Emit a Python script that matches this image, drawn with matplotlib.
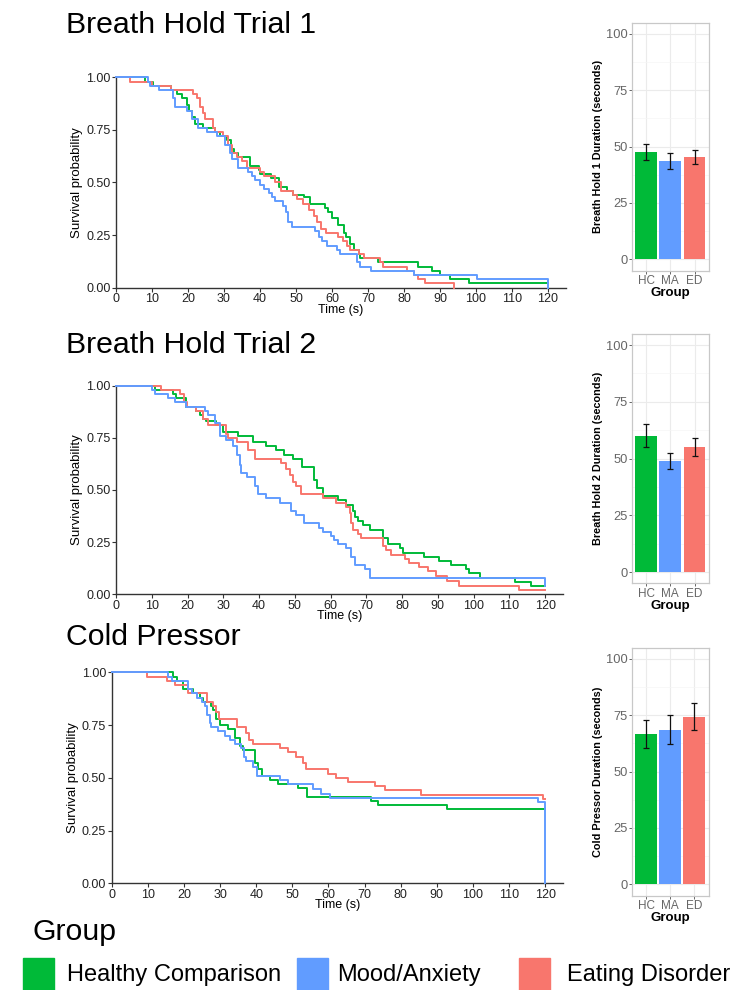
import numpy as np
import matplotlib.pyplot as plt
from matplotlib.patches import Rectangle

plt.rcParams['font.family'] = ['Liberation Sans', 'DejaVu Sans']

# ---------------- colours / groups ----------------
groups = ['HC', 'MA', 'ED']
group_names = ['Healthy Comparison', 'Mood/Anxiety', 'Eating Disorder']
colors = {'HC': '#00BA38', 'MA': '#619CFF', 'ED': '#F8766D'}

# ---------------- Kaplan-Meier steps ----------------
# Breath hold trial 1
bh1_hc_t = [0, 8.1, 10.2, 15.3, 16.9, 18.3, 19.6, 20.4, 21, 22, 24.3, 27.5, 28.9, 30.8, 31.9, 32.8, 34, 37.3,
            39.6, 40, 43, 45.3, 47.5, 49.3, 52.3, 54, 58.1, 59, 60, 61.8, 63.2, 63.9, 65, 66, 67.4, 67.8, 72.9,
            84, 87.8, 90, 92.9, 98, 120]
bh1_hc_s = [1, .98, .96, .94, .92, .90, .87, .84, .81, .78, .76, .74, .72, .70, .66, .64, .62, .58,
            .56, .54, .52, .48, .46, .44, .43, .40, .38, .36, .33, .30, .26, .24, .21, .18, .16, .14, .12,
            .10, .08, .06, .04, .02, .02]
bh1_ma_t = [0, 9, 9.5, 12, 15.7, 16.4, 19.6, 21, 22.9, 25.2, 28, 30.3, 31.7, 32.2, 34, 36.8, 37.7, 38.6, 40,
            41.1, 42.4, 43.3, 44.2, 46.5, 47.3, 47.9, 49, 55.3, 56.5, 57.2, 58.6, 61.4, 62.1, 66.9, 67.8, 70.7,
            82.7, 100.4, 120, 120]
bh1_ma_s = [1, .98, .96, .94, .90, .86, .84, .80, .76, .74, .72, .68, .64, .61, .57, .55, .53, .51, .49,
            .47, .45, .43, .41, .39, .36, .31, .29, .27, .24, .22, .20, .18, .16, .12, .10, .08,
            .06, .04, .04, 0]
bh1_ed_t = [0, 3.9, 9.9, 15.3, 21.5, 22.4, 23.2, 24.1, 24.7, 27, 27.5, 29.8, 31.2, 32.2, 33.5, 35, 36.3, 40,
            41, 44.2, 45.9, 49.3, 50.4, 51.9, 53.5, 54.9, 55.8, 57, 58.4, 61.8, 63, 64.1, 65, 67.4, 68.8, 73.4,
            74.3, 80.8, 82.7, 84, 85.9, 94]
bh1_ed_s = [1, .98, .96, .94, .92, .90, .86, .83, .80, .76, .74, .72, .68, .64, .62, .60, .57, .55,
            .53, .50, .46, .44, .42, .40, .37, .34, .31, .28, .26, .24, .22, .20, .18, .16, .14, .12,
            .10, .08, .06, .04, .02, 0]

# Breath hold trial 2
bh2_hc_t = [0, 10.9, 16, 16.9, 19.7, 22.5, 23.4, 24.4, 25.3, 28.1, 30, 34.1, 38.3, 42, 44.8, 46.9, 49.5, 52.1,
            55.5, 56.3, 57.9, 62, 64.4, 66.2, 66.7, 67.6, 69, 70.9, 74.6, 76, 79.3, 80.2, 86.2, 90.4, 93.6,
            97.8, 98.6, 101.8, 111.6, 116, 120]
bh2_hc_s = [1, .98, .96, .94, .90, .88, .86, .84, .83, .81, .78, .76, .73, .71, .69, .67, .65, .61,
            .55, .51, .47, .45, .43, .40, .37, .35, .33, .31, .27, .24, .22, .20, .18, .16, .14,
            .12, .10, .08, .06, .04, .04]
bh2_ma_t = [0, 10, 10.9, 14.6, 16.5, 19.7, 24.8, 25.8, 27.6, 29, 30.9, 32.7, 33.7, 34.6, 35, 36.5, 38.8, 39.7,
            42, 45.8, 49, 50.4, 52.7, 56.9, 57.9, 60.2, 61.1, 62, 64.4, 65.8, 66.7, 69.5, 70.9, 120, 120]
bh2_ma_s = [1, .98, .96, .94, .92, .90, .88, .86, .82, .76, .74, .71, .67, .62, .58, .56, .52, .48,
            .46, .44, .40, .38, .34, .32, .30, .28, .26, .24, .22, .18, .14, .12, .08, .08, .04]
bh2_ed_t = [0, 12.7, 17.9, 19, 19.9, 22.5, 24.4, 25.8, 30.9, 31.4, 33.7, 36.9, 38.8, 46.2, 47.6, 48.6, 49.5,
            50.4, 51.8, 57.9, 61.6, 64.4, 65.3, 65.8, 66.2, 67.6, 68.6, 74.6, 75.5, 76.9, 80.7, 82, 84.8,
            87.2, 89.5, 92.7, 96, 112.8, 120]
bh2_ed_s = [1, .98, .96, .92, .90, .88, .84, .81, .77, .75, .73, .69, .65, .63, .60, .57, .54,
            .52, .48, .46, .44, .42, .39, .34, .31, .29, .27, .23, .21, .19, .17, .15, .13,
            .11, .09, .065, .04, .02, .02]

# Cold pressor
cp_hc_t = [0, 17, 18, 19.8, 22.6, 24.4, 25.3, 27.6, 28.1, 29, 30, 32.3, 34.1, 35.5, 36.4, 39.6, 40.5, 41.5,
           43.8, 46.1, 51.6, 54.1, 71.9, 73.7, 92.9, 120]
cp_hc_s = [1, .98, .96, .92, .90, .88, .86, .84, .82, .78, .75, .73, .69, .65, .63, .57, .54, .51,
           .49, .47, .45, .41, .39, .37, .35, .35]
cp_ma_t = [0, 15.7, 16.6, 21.2, 22.1, 23.5, 24.9, 25.8, 26.3, 27.2, 27.6, 29.5, 31.3, 32.7, 34.1, 35.9, 36.6,
           37.3, 39.2, 40.3, 46.5, 48.8, 55.7, 58, 60.4, 118, 120, 120]
cp_ma_s = [1, .98, .96, .92, .90, .88, .86, .84, .80, .76, .74, .72, .70, .68, .66, .64, .60,
           .58, .55, .51, .49, .47, .445, .425, .405, .387, .387, 0]
cp_ed_t = [0, 9.9, 15.2, 17.5, 21.2, 26.3, 28.1, 29, 29.8, 34.6, 37.3, 38, 39, 46.5, 48.8, 51.1, 53, 53.9,
           59.9, 62.2, 65.4, 72.8, 75.6, 85.7, 119.3, 120]
cp_ed_s = [1, .98, .96, .94, .90, .86, .84, .81, .78, .74, .71, .68, .66, .64, .62, .60, .57, .54,
           .52, .50, .48, .46, .44, .42, .40, .40]

# ---------------- bar charts: mean duration and error bars ----------------
bh1_mean = [47.5, 43.6, 45.3]
bh1_lo = [44.1, 40.1, 42.2]
bh1_hi = [51.3, 47.3, 48.5]
bh2_mean = [59.9, 48.9, 55.1]
bh2_lo = [55.1, 45.4, 51.1]
bh2_hi = [65.2, 52.4, 59.0]
cp_mean = [66.6, 68.5, 74.3]
cp_lo = [60.7, 62.1, 68.5]
cp_hi = [72.8, 75.0, 80.3]

W, H = 732, 990
fig = plt.figure(figsize=(W / 100, H / 100), dpi=100)


def fx(px):
    return px / W


def fy(py):
    return 1 - py / H


def km_panel(rect, curves):
    ax = fig.add_axes(rect)
    for g in ['HC', 'ED', 'MA']:
        t, s = curves[g]
        ax.step(t, s, where='post', color=colors[g], lw=1.4, clip_on=False, zorder=3)
    ax.set_xlim(0, 125)
    ax.set_ylim(0, 1)
    ax.set_xticks(np.arange(0, 121, 10))
    ax.set_yticks([0, 0.25, 0.5, 0.75, 1.0])
    ax.set_yticklabels(['0.00', '0.25', '0.50', '0.75', '1.00'])
    for sp in ['top', 'right']:
        ax.spines[sp].set_visible(False)
    for sp in ['left', 'bottom']:
        ax.spines[sp].set_color('#333333')
        ax.spines[sp].set_linewidth(1.0)
    ax.tick_params(length=3, width=0.8, color='#333333', labelsize=9, pad=1, labelcolor='#222222')
    ax.set_xlabel('Time (s)', fontsize=9, labelpad=-1)
    ax.set_ylabel('Survival probability', fontsize=9.5, labelpad=2)
    return ax


def bar_panel(rect, mean, lo, hi, ylabel):
    ax = fig.add_axes(rect)
    x = np.arange(1, len(groups) + 1)
    ax.set_axisbelow(True)
    ax.bar(x, mean, width=0.9, color=[colors[g] for g in groups], zorder=2)
    err = [np.array(mean) - np.array(lo), np.array(hi) - np.array(mean)]
    ax.errorbar(x, mean, yerr=err, fmt='none', ecolor='#111111', elinewidth=0.9,
                capsize=2.2, capthick=0.9, zorder=3)
    ax.set_xlim(0.4, 3.6)
    ax.set_ylim(-5, 105)
    ax.set_xticks(x)
    ax.set_xticklabels(groups)
    ax.set_yticks([0, 25, 50, 75, 100])
    ax.set_yticks([12.5, 37.5, 62.5, 87.5], minor=True)
    ax.grid(which='major', color='#EBEBEB', lw=0.8)
    ax.grid(which='minor', axis='y', color='#F5F5F5', lw=0.5)
    for sp in ax.spines.values():
        sp.set_color('#C8C8C8')
        sp.set_linewidth(0.9)
    ax.tick_params(which='major', length=2.5, width=0.7, color='#666666',
                   labelcolor='#666666', pad=0.5)
    ax.tick_params(axis='y', which='major', labelsize=9.3)
    ax.tick_params(axis='x', which='major', labelsize=8.5)
    ax.tick_params(which='minor', length=0)
    ax.set_xlabel('Group', fontsize=9.5, fontweight='bold', labelpad=0)
    ax.set_ylabel(ylabel, fontsize=7.8, fontweight='bold', labelpad=2)
    return ax


# ---- row 1
fig.text(fx(66), fy(25), 'Breath Hold Trial 1', fontsize=21.8, va='center', ha='left')
km_panel([fx(116), fy(287.7), fx(566) - fx(116), (287.7 - 77.3) / H],
         {'HC': (bh1_hc_t, bh1_hc_s), 'MA': (bh1_ma_t, bh1_ma_s), 'ED': (bh1_ed_t, bh1_ed_s)})
bar_panel([fx(631.7), fy(270.6), fx(709) - fx(631.7), (270.6 - 22.7) / H],
          bh1_mean, bh1_lo, bh1_hi, 'Breath Hold 1 Duration (seconds)')

# ---- row 2
fig.text(fx(66), fy(345), 'Breath Hold Trial 2', fontsize=21.8, va='center', ha='left')
km_panel([fx(116), fy(594.3), fx(563) - fx(116), (594.3 - 385.7) / H],
         {'HC': (bh2_hc_t, bh2_hc_s), 'MA': (bh2_ma_t, bh2_ma_s), 'ED': (bh2_ed_t, bh2_ed_s)})
bar_panel([fx(631.7), fy(583.4), fx(709) - fx(631.7), (583.4 - 333.7) / H],
          bh2_mean, bh2_lo, bh2_hi, 'Breath Hold 2 Duration (seconds)')

# ---- row 3
fig.text(fx(66), fy(637), 'Cold Pressor', fontsize=21.8, va='center', ha='left')
km_panel([fx(111.7), fy(883.3), fx(563.3) - fx(111.7), (883.3 - 672.3) / H],
         {'HC': (cp_hc_t, cp_hc_s), 'MA': (cp_ma_t, cp_ma_s), 'ED': (cp_ed_t, cp_ed_s)})
bar_panel([fx(631.7), fy(895.6), fx(708.5) - fx(631.7), (895.6 - 647.7) / H],
          cp_mean, cp_lo, cp_hi, 'Cold Pressor Duration (seconds)')

# ---- legend
fig.text(fx(33), fy(932), 'Group', fontsize=21.8, va='center', ha='left')
sq_x = [23, 297, 519]
txt_x = [67, 337, 567]
for g, name, sx, tx in zip(groups, group_names, sq_x, txt_x):
    fig.patches.append(Rectangle((fx(sx), fy(992)), fx(31), 34 / H, transform=fig.transFigure,
                                 color=colors[g]))
    fig.text(fx(tx), fy(975), name, fontsize=17, va='center', ha='left')

fig.savefig('out.png', dpi=100, facecolor='white')
